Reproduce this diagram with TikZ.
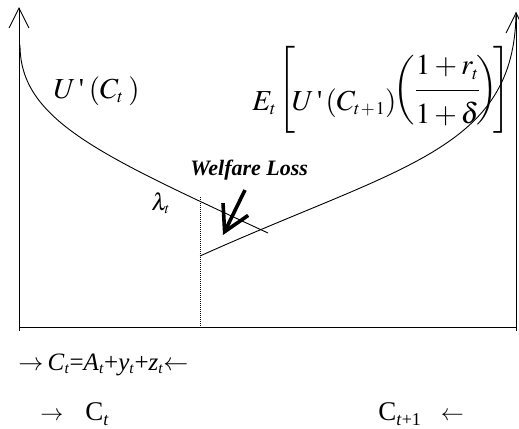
\documentclass[tikz,border=0pt]{standalone}
\usepackage{mathptmx}
\usepackage[no-math]{fontspec}
\setmainfont{Liberation Serif}
\usetikzlibrary{arrows.meta}
\renewcommand\defaultscriptratio{.62}
\renewcommand\defaultscriptscriptratio{.45}
\newcommand\setfs[1]{\fontsize{#1bp}{#1bp}\selectfont}
\newcommand\uq{\mbox{\textquotesingle}}
\newcommand\sbt{\textsubscript{\textit{t}}}
\begin{document}
\begin{tikzpicture}[x=1bp,y=-1bp, line width=0.9bp,
  lab/.style={inner sep=0pt, anchor=base west},
  axistip/.style={-{Straight Barb[length=20bp,width=20bp]}},
  curve/.style={line width=0.9bp}]
\useasboundingbox (0,0) rectangle (519,428);
% axes
\coordinate (Ltop) at (19,7);
\coordinate (Lbot) at (19,331);
\coordinate (Rtop) at (516,12);
\coordinate (Rbot) at (516,331);
\coordinate (O) at (19,327);
\coordinate (Rx) at (516,327);
\draw[axistip] (Lbot) -- (Ltop);
\draw[axistip] (Rbot) -- (Rtop);
\draw (O) -- (Rx);
% marginal utility today
\coordinate (u0) at (20,45);
\coordinate (u1) at (268,233);
\draw[curve] (u0) .. controls (20,120) and (100,155) .. (u1);
% expected discounted marginal utility tomorrow
\coordinate (e0) at (200,256);
\draw[curve] (e0) .. controls (400,166) and (515,150) .. (Rtop);
% dotted line
\coordinate (d0) at (200,197);
\coordinate (d1) at (200,327);
\draw[dash pattern=on 1bp off 1bp, line width=0.8bp] (d0) -- (d1);
% welfare loss arrow
\coordinate (w0) at (245,190);
\coordinate (w1) at (223,235);
\draw[line width=3.6bp, -{Straight Barb[length=25bp,width=28bp]}] (w0) -- (w1);
% labels
\node[lab] (uc) at (53,98) {\setfs{29}$U\mkern2mu\uq\mkern3mu(C_t\mkern3mu)$};
\node[lab] (ec) at (252,97.5) {\setfs{29}$\raisebox{-12.5bp}{$E_t$}\mkern-1mu\left[\vrule height 47.5bp depth 32.5bp width 0pt\mkern-2mu\raisebox{-12.5bp}{$U\mkern2mu\uq\mkern2mu(C_{t\mkern1mu+\mkern1mu1})$}\mkern-4mu\left(\vrule height 42.5bp depth 27.5bp width 0pt{\displaystyle\frac{\raisebox{3bp}{$1+r_t$}}{\raisebox{-6bp}{$1+\delta$}}}\mkern-2mu\right)\mkern-3mu\right]$};
\node[lab] (wl) at (190,175) {\setfs{22}\bfseries\itshape Welfare Loss};
\node[lab] (lam) at (151,210) {\setfs{24}$\lambda_t$};
\node[lab] (bud) at (18,370) {\setfs{25}$\rightarrow$\,\textit{C}\sbt=\textit{A}\sbt+\textit{y}\sbt+\textit{z}\sbt$\leftarrow$};
\node[lab] (ct) at (40,420) {\setfs{23}$\rightarrow$\hspace{22bp}\setfs{27}C\raisebox{-5bp}{\setfs{18}\textit{t}}};
\node[lab] (ct1) at (378,420) {\setfs{27}C\raisebox{-5bp}{\setfs{18}\textit{t}+1}\hspace{20bp}\setfs{23}$\leftarrow$};
\end{tikzpicture}
\end{document}
